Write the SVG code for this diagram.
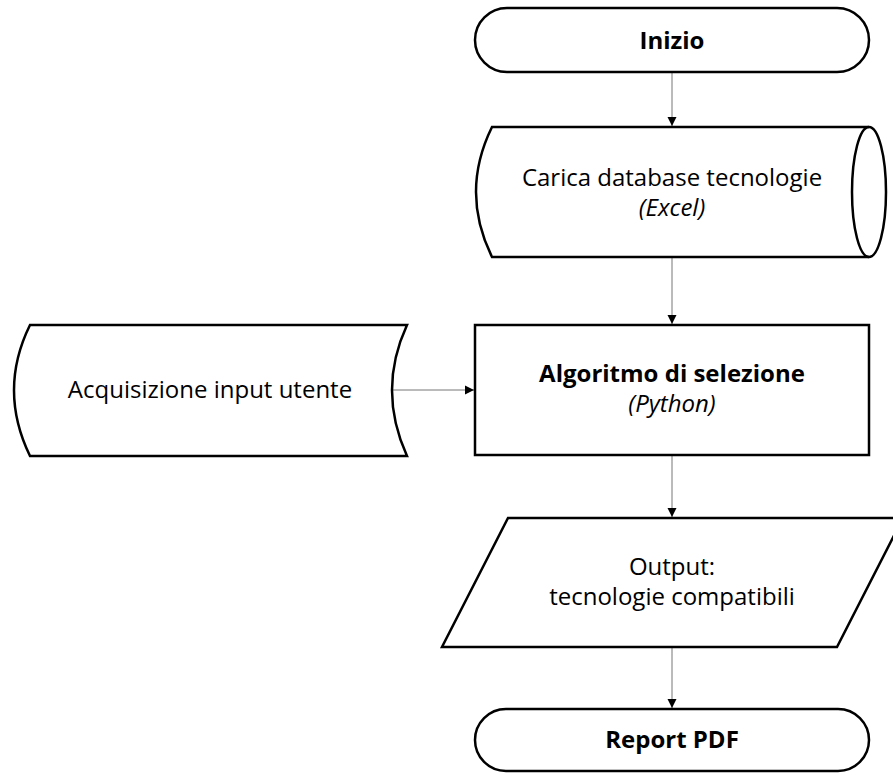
<svg xmlns="http://www.w3.org/2000/svg" width="893" height="774" viewBox="0 0 893 774">
<defs>
<marker id="arr" markerWidth="10" markerHeight="10" refX="9" refY="5" orient="auto" markerUnits="userSpaceOnUse">
<path d="M0,0.5 L9,5 L0,9.5 Z" fill="#000"/>
</marker>
<style>
.shape{fill:#fff;stroke:#000;stroke-width:2.5;stroke-linejoin:miter}
.conn{stroke:#777;stroke-width:1;fill:none;marker-end:url(#arr)}
text{font-family:"Open Sans","Noto Sans","DejaVu Sans",sans-serif;font-size:24px;fill:#000;text-anchor:middle}
.b{font-weight:bold}
.i{font-style:italic}
</style>
</defs>
<rect width="893" height="774" fill="#fff"/>
<g id="connectors">
<line class="conn" x1="672" y1="73" x2="672" y2="126"/>
<line class="conn" x1="672" y1="258" x2="672" y2="324"/>
<line class="conn" x1="392" y1="390" x2="474" y2="390"/>
<line class="conn" x1="672" y1="456" x2="672" y2="517"/>
<line class="conn" x1="672" y1="648" x2="672" y2="708"/>
</g>
<g id="inizio">
<rect class="shape" x="475" y="8" width="394" height="64" rx="32" ry="32"/>
<text class="b" x="672" y="49">Inizio</text>
</g>
<g id="carica">
<path class="shape" d="M492,127 L869,127 A17,65 0 0 1 869,257 L492,257 Q460,192 492,127 Z"/>
<path class="shape" style="fill:none" d="M869,127 A17,65 0 0 0 869,257"/>
<text x="672" y="186">Carica database tecnologie</text>
<text class="i" x="672" y="216">(Excel)</text>
</g>
<g id="acquisizione">
<path class="shape" d="M30,325 L407,325 Q377,390 407,456 L30,456 Q-2,390 30,325 Z"/>
<text x="210" y="398">Acquisizione input utente</text>
</g>
<g id="algoritmo">
<rect class="shape" x="475" y="325" width="394" height="130"/>
<text class="b" x="672" y="382">Algoritmo di selezione</text>
<text class="i" x="672" y="412">(Python)</text>
</g>
<g id="output">
<path class="shape" d="M508,518 L903,518 L837,647 L442,647 Z"/>
<text x="672" y="575">Output:</text>
<text x="672" y="605">tecnologie compatibili</text>
</g>
<g id="report">
<rect class="shape" x="475" y="709" width="394" height="62" rx="31" ry="31"/>
<text class="b" x="672" y="748">Report PDF</text>
</g>
</svg>
